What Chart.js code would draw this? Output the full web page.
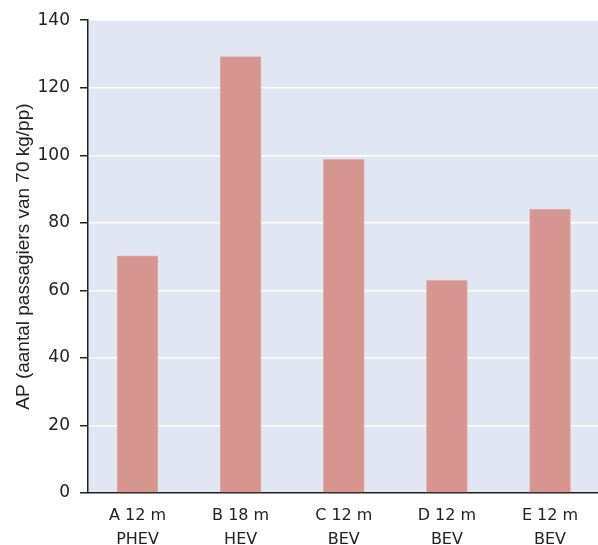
<!DOCTYPE html>
<html>
<head>
<meta charset="utf-8">
<script src="https://cdn.jsdelivr.net/npm/chart.js@4/dist/chart.umd.min.js"></script>
<style>
html,body{margin:0;padding:0;background:#fff;overflow:hidden;}
#wrap{width:598px;height:545px;position:relative;}
</style>
</head>
<body>
<div id="wrap"><canvas id="c"></canvas></div>
<script>
const categories = [["A 12 m","PHEV"],["B 18 m","HEV"],["C 12 m","BEV"],["D 12 m","BEV"],["E 12 m","BEV"]];
const values = [70.2, 129.2, 98.8, 63.0, 84.1];
const yTicks = [0, 20, 40, 60, 80, 100, 120, 140];
const yTitle = "AP (aantal passagiers van 70 kg/pp)";

const bgPlugin = {
  id: 'bg',
  beforeDraw(chart) {
    const {ctx, chartArea: a} = chart;
    ctx.save();
    ctx.fillStyle = '#e1e7f2';
    ctx.fillRect(a.left, a.top, a.right - a.left, a.bottom - a.top);
    ctx.restore();
  }
};

new Chart(document.getElementById('c'), {
  type: 'bar',
  data: {
    datasets: [{
      data: values.map((v, i) => ({x: i, y: v})),
      backgroundColor: '#d6958f',
      borderColor: '#e0b1ae',
      borderWidth: 1,
      barThickness: 41
    }]
  },
  options: {
    responsive: true,
    maintainAspectRatio: false,
    animation: false,
    layout: {padding: {top: 12, right: 0, bottom: 0, left: 12}},
    plugins: {legend: {display: false}, tooltip: {enabled: false}},
    scales: {
      x: {
        type: 'linear',
        offset: false,
        min: -0.48,
        max: 4.465,
        afterBuildTicks: axis => { axis.ticks = categories.map((c, i) => ({value: i})); },
        afterFit: axis => { axis.height = 52; },
        grid: {display: false, drawTicks: false, offset: false},
        border: {display: true, color: '#222', width: 1.5},
        ticks: {
          color: '#222',
          padding: 11,
          autoSkip: false,
          maxRotation: 0,
          font: {family: 'DejaVu Sans', size: 16, lineHeight: 1.5},
          callback: (v) => categories[v] || ''
        }
      },
      y: {
        min: 0,
        max: 140,
        afterBuildTicks: axis => { axis.ticks = yTicks.map(v => ({value: v})); },
        afterFit: axis => { axis.width = 76; },
        grid: {color: '#ffffff', lineWidth: 1.5, tickColor: '#222', tickLength: 8},
        border: {display: true, color: '#222', width: 1.5},
        ticks: {
          color: '#222',
          padding: 10,
          font: {family: 'DejaVu Sans', size: 17}
        },
        title: {
          display: true,
          text: yTitle,
          color: '#222',
          padding: {top: 0, bottom: 2},
          font: {family: 'Liberation Sans', size: 19}
        }
      }
    }
  },
  plugins: [bgPlugin]
});
</script>
</body>
</html>
